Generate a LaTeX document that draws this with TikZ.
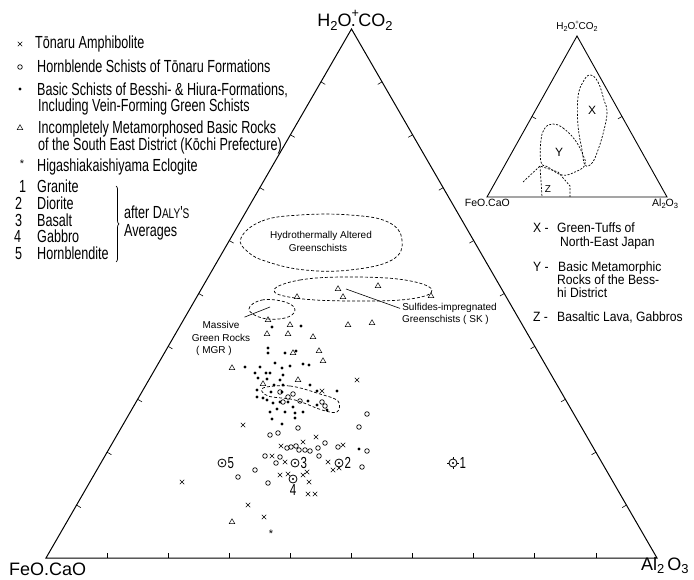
\documentclass[tikz,border=0pt]{standalone}
\usepackage{fontspec}
\setmainfont{Liberation Sans}
\newfontfamily\cond[FakeStretch=0.72]{Liberation Sans}
\newfontfamily\condb[FakeStretch=0.9]{Liberation Sans}
\usetikzlibrary{shapes.misc,shapes.geometric,decorations.pathreplacing,calc}
\newcommand\dn[1]{\raisebox{-0.35ex}{\scalebox{0.72}{#1}}}
\begin{document}
\begin{tikzpicture}[x=1pt,y=-1pt,
  px/.style={cross out, draw, minimum size=4pt, inner sep=0pt, line width=0.5pt},
  po/.style={circle, draw, minimum size=4.6pt, inner sep=0pt, line width=0.7pt},
  pd/.style={circle, fill, minimum size=3.3pt, inner sep=0pt},
  ptri/.style={regular polygon, regular polygon sides=3, draw, minimum size=6.5pt, inner sep=0pt, line width=0.5pt},
  pavg/.style={circle, draw, minimum size=8pt, inner sep=0pt, line width=0.8pt},
  lg/.style={anchor=base west, inner sep=0pt, font=\cond\fontsize{17.5}{20}\selectfont},
  ilg/.style={anchor=base west, inner sep=0pt, font=\condb\fontsize{13.5}{15}\selectfont},
  sm/.style={inner sep=0pt, font=\fontsize{10}{12}\selectfont},
  zone/.style={dash pattern=on 3pt off 2pt, line width=0.7pt},
  izone/.style={dash pattern=on 2pt off 1.5pt, line width=0.7pt},
  tick/.style={line width=0.6pt}]
\useasboundingbox (0,0) rectangle (694,580);

% ---------- main triangle ----------
\coordinate (A) at (351.5,29);
\coordinate (B) at (46,558);
\coordinate (C) at (657,558);
\draw[line width=1pt] (A) -- (B) -- (C) -- cycle;
\foreach \i in {1,...,9}{
  \draw[tick] ($(A)!\i/10!(B)$) -- ++(4.3,2.5);
  \draw[tick] ($(A)!\i/10!(C)$) -- ++(-4.3,2.5);
  \draw[tick] ($(B)!\i/10!(C)$) -- ++(0,-5);
}
\node[anchor=base, inner sep=0pt, font=\fontsize{18}{18}\selectfont] (top) at (355,27)
  {H\dn{2}O\raisebox{1.0ex}{\scalebox{0.7}{+}}\hspace{-0.45em}.\hspace{0.15em}CO\dn{2}};
\node[anchor=base west, inner sep=0pt, font=\fontsize{18}{18}\selectfont] (lft) at (9,575) {FeO.CaO};
\node[anchor=base west, inner sep=0pt, font=\fontsize{18}{18}\selectfont] (rgt) at (641,570) {Al\dn{2}\,O\dn{3}};

% ---------- legend ----------
\node[px] (lx) at (20,44) {};
\node[lg] (t1) at (35,49) {Tōnaru Amphibolite};
\node[po] (lo) at (20,67) {};
\node[lg] (t2) at (37,73) {Hornblende Schists of Tōnaru Formations};
\node[pd] (ld) at (20,89) {};
\node[lg] (t3) at (37,96) {Basic Schists of Besshi- \& Hiura-Formations,};
\node[lg] (t3b) at (38,112) {Including Vein-Forming Green Schists};
\node[ptri] (lt) at (20,128) {};
\node[lg] (t4) at (38,134) {Incompletely Metamorphosed Basic Rocks};
\node[lg] (t4b) at (38,151) {of the South East District (Kōchi Prefecture)};
\node[inner sep=0pt, font=\fontsize{11}{11}\selectfont] (ls) at (22,164) {*};
\node[lg] (t5) at (37,172) {Higashiakaishiyama Eclogite};
\node[lg] (n1) at (19,193) {1};
\node[lg] (n2) at (15,210) {2};
\node[lg] (n3) at (15,227) {3};
\node[lg] (n4) at (14,243) {4};
\node[lg] (n5) at (15,260) {5};
\node[lg] (g1) at (37,193) {Granite};
\node[lg] (g2) at (37,210) {Diorite};
\node[lg] (g3) at (37,227) {Basalt};
\node[lg] (g4) at (37,243) {Gabbro};
\node[lg] (g5) at (37,260) {Hornblendite};
\coordinate (br1) at (116,186);
\coordinate (br2) at (116,262);
\draw[line width=0.7pt, decorate, decoration={brace, amplitude=3pt}] (br1) -- (br2);
\node[lg] (dal) at (124,219) {after D{\fontsize{14}{14}\selectfont ALY}'{\fontsize{14}{14}\selectfont S}};
\node[lg] (avg) at (124,237) {Averages};

% ---------- dashed zones ----------
\draw[zone] plot[smooth cycle, tension=0.7] coordinates
  {(241,238) (262,221) (300,215) (350,215) (388,222) (402,240) (392,260) (350,270) (305,270) (268,262) (248,252)};
\node[sm] (hy1) at (321,236) {Hydrothermally Altered};
\node[sm] (hy2) at (318,248) {Greenschists};
\draw[zone] plot[smooth cycle, tension=0.7] coordinates
  {(274,290) (300,280) (350,277) (405,280) (432,290) (410,299) (350,301) (295,298)};
\draw[zone] plot[smooth cycle, tension=0.7] coordinates
  {(249,309) (262,300) (285,302) (295,310) (285,318) (262,318)};
\draw[zone] plot[smooth cycle, tension=0.6] coordinates
  {(263,388) (290,386) (320,394) (338,401) (337,412) (322,410) (295,400) (268,396)};

\node[sm] (mg1) at (221,325) {Massive};
\node[sm] (mg2) at (221,338) {Green Rocks};
\node[sm] (mg3) at (214,351) {( MGR )};
\coordinate (mgp) at (270,307);
\draw[line width=0.6pt] (mg1.north east) ++(5,-4) -- (mgp);
\node[sm, anchor=base east] (sk1) at (497,311) {Sulfides-impregnated};
\node[sm, anchor=base east] (sk2) at (489,323) {Greenschists ( SK )};
\coordinate (skp) at (346,289);
\draw[line width=0.6pt] ([xshift=-2pt]sk1.west) -- (skp);

% ---------- data points ----------
\foreach \p in {(297,297),(338,289),(343,297),(268,320),(290,325),(348,325),(267,334),(288,334),(313,337),
  (293,353),(319,351),(323,361),(232,368),(263,384),(298,380),(232,522),(378,286),(431,296),(372,323)}
  \node[ptri] at \p {};
\foreach \p in {(272,327),(301,326),(268,348),(268,353),(285,353),(245,367),(260,367),(275,363),(282,368),(290,366),
  (255,373),(266,373),(270,373),(283,375),(258,378),(267,379),(280,380),(274,385),(283,385),(257,390),(271,392),
  (282,392),(257,397),(263,398),(267,400),(273,403),(280,402),(270,412),(277,409),(285,412),(293,407),(272,419),
  (282,424),(296,351),(303,364),(309,365),(310,385),(317,391),(337,391),(288,402),(308,401),(327,410),(317,405),
  (303,412),(295,413),(295,418),(359,449)}
  \node[pd] at \p {};
\foreach \p in {(280,392),(288,397),(293,394),(283,402),(300,401),(322,402),(325,406),(367,414),(359,427),(298,428),
  (270,435),(278,433),(325,443),(287,448),(291,447),(296,446),(299,450),(305,450),(310,451),(318,448),(367,451),
  (265,456),(280,457),(319,456),(362,467),(255,470),(238,477),(268,483),(338,447),(276,463)}
  \node[po] at \p {};
\foreach \p in {(243,425),(357,380),(322,391),(316,437),(303,442),(281,446),(343,445),(272,456),(285,462),(328,462),
  (333,470),(339,468),(280,475),(288,474),(303,475),(307,472),(309,482),(308,494),(315,494),(182,482),(248,505),(264,517)}
  \node[px] at \p {};
\node[inner sep=0pt, font=\fontsize{11}{11}\selectfont] (ecl) at (271,534) {*};

% averages
\node[pavg] (a5) at (222,463) {}; \fill (a5.center) circle (1.2pt);
\node[anchor=west, inner sep=1pt, font=\cond\fontsize{16}{16}\selectfont] (l5) at (a5.east) {5};
\node[pavg] (a3) at (295,463) {}; \fill (a3.center) circle (1.2pt);
\node[anchor=west, inner sep=1pt, font=\cond\fontsize{16}{16}\selectfont] (l3) at (a3.east) {3};
\node[pavg] (a2) at (339,463) {}; \fill (a2.center) circle (1.2pt);
\node[anchor=west, inner sep=1pt, font=\cond\fontsize{16}{16}\selectfont] (l2) at (a2.east) {2};
\node[pavg] (a4) at (293,479) {}; \fill (a4.center) circle (1.2pt);
\node[anchor=north, inner sep=1pt, font=\cond\fontsize{16}{16}\selectfont] (l4) at (a4.south) {4};
\node[pavg] (a1) at (453,463) {}; \fill (a1.center) circle (1.2pt);
\draw[line width=0.6pt] (a1.north) -- ++(0,-2) (a1.south) -- ++(0,2) (a1.east) -- ++(2,0) (a1.west) -- ++(-2,0);
\node[anchor=west, inner sep=2pt, font=\cond\fontsize{16}{16}\selectfont] (l1) at (a1.east) {1};

% ---------- inset ----------
\coordinate (iA) at (577,36);
\coordinate (iB) at (487,197);
\coordinate (iC) at (667,197);
\draw[line width=0.9pt] (iA) -- (iB) -- (iC) -- cycle;
\draw[tick] ($(iA)!0.5!(iB)$) -- ++(4,2.3);
\draw[tick] ($(iA)!0.5!(iC)$) -- ++(-4,2.3);
\node[anchor=base, inner sep=0pt, font=\fontsize{10}{10}\selectfont] (itop) at (577,30)
  {H\dn{2}O\raisebox{1.0ex}{\scalebox{0.6}{+}}\hspace{-0.4em}.\hspace{0.1em}CO\dn{2}};
\node[anchor=base east, inner sep=0pt, font=\fontsize{10.5}{10}\selectfont] (ilft) at (510,207) {FeO.CaO};
\node[anchor=base west, inner sep=0pt, font=\fontsize{10.5}{10}\selectfont] (irgt) at (652,207) {Al\dn{2}O\dn{3}};
\draw[izone] plot[smooth cycle, tension=0.7] coordinates
  {(590,75) (598,82) (604,100) (607,112) (604,130) (598,150) (592,163) (585,165) (582,150) (578,125) (578,97) (583,82)};
\draw[izone] plot[smooth cycle, tension=0.7] coordinates
  {(553,124) (563,128) (575,140) (583,155) (585,165) (575,172) (562,175) (548,167) (541,162) (541,140) (545,128)};
\draw[izone] (523,182) -- (540,166) -- (558,172) -- (570,186) -- (570,197);
\draw[izone] (540,166) -- (542,197);
\node[font=\fontsize{12}{12}\selectfont, inner sep=0pt] (iX) at (592,110) {X};
\node[font=\fontsize{12}{12}\selectfont, inner sep=0pt] (iY) at (559,152) {Y};
\node[font=\fontsize{10}{10}\selectfont, inner sep=0pt] (iZ) at (548,189) {Z};

\node[ilg] (xl) at (533,233) {X -};
\node[ilg] (xl1) at (557,233) {Green-Tuffs of};
\node[ilg] (xl2) at (560,247) {North-East Japan};
\node[ilg] (yl) at (533,272) {Y -};
\node[ilg] (yl1) at (558,272) {Basic Metamorphic};
\node[ilg] (yl2) at (557,285) {Rocks of the Bess-};
\node[ilg] (yl3) at (557,298) {hi District};
\node[ilg] (zl) at (533,322) {Z -};
\node[ilg] (zl1) at (557,322) {Basaltic Lava, Gabbros};
\end{tikzpicture}
\end{document}
